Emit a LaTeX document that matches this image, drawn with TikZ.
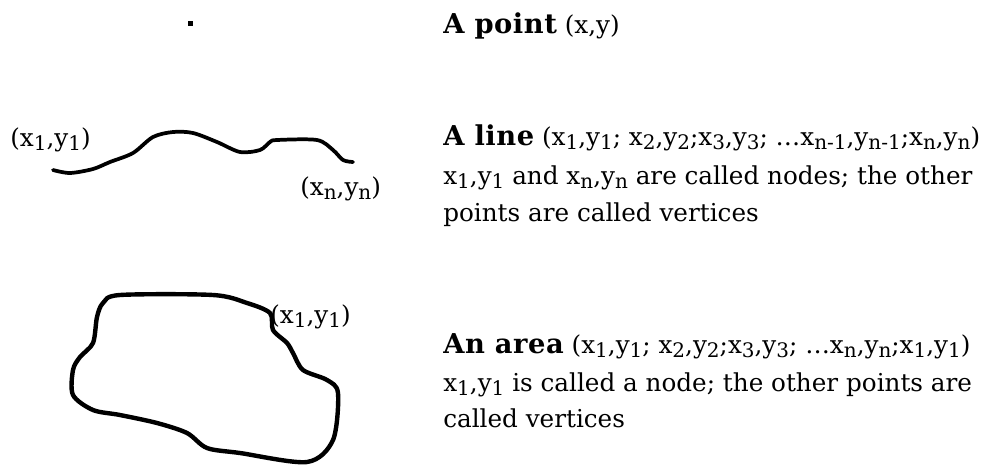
\documentclass[tikz,border=0pt]{standalone}
\usepackage{fontspec}
\setmainfont{DejaVu Serif}
\newcommand\sbs[1]{\raisebox{-3.5pt}{\fontsize{15}{15}\selectfont #1}}
\newcommand\hd[1]{{\fontsize{20.5}{22}\selectfont\bfseries\addfontfeature{LetterSpace=2}#1}}
\tikzset{
  txt/.style={anchor=base west, inner sep=0pt, font=\fontsize{18.5}{22}\selectfont},
  stroke/.style={line width=2.8pt, line cap=round, line join=round},
  thick stroke/.style={line width=3.3pt, line cap=round, line join=round}
}
\begin{document}
\begin{tikzpicture}[x=0.75pt, y=-0.75pt]
\useasboundingbox (0,0) rectangle (994,468);
% point
\node (pt) [fill=black, minimum size=3.75pt, inner sep=0pt] at (190,23) {};
\node (t1) [txt] at (443,33) {\hd{A point} (x,y)};
% line
\draw[stroke] plot[smooth, tension=0.5] coordinates {(53,170) (70,173) (93,169) (110,162) (133,153) (153,137) (173,132) (193,133) (217,142) (240,152) (260,150) (270,142) (277,140) (317,140) (333,150) (343,160) (353,162)};
\node (l1) [txt] at (10,146) {(x\sbs{1},y\sbs{1})};
\node (ln) [txt] at (300,195) {(x\sbs{n},y\sbs{n})};
\node (t2a) [txt] at (443,145) {\hd{A line} (x\sbs{1},y\sbs{1}; x\sbs{2},y\sbs{2};x\sbs{3},y\sbs{3}; …x\sbs{n-1},y\sbs{n-1};x\sbs{n},y\sbs{n})};
\node (t2b) [txt] at (443,184) {x\sbs{1},y\sbs{1} and x\sbs{n},y\sbs{n} are called nodes; the other};
\node (t2c) [txt] at (443,221) {points are called vertices};
% area
\draw[thick stroke] plot[smooth cycle, tension=0.5] coordinates {(270,313) (247,303) (213,295) (120,295) (103,303) (97,317) (93,343) (80,357) (73,370) (73,395) (93,410) (120,415) (157,423) (187,433) (207,448) (240,453) (307,462) (333,440) (338,393) (327,380) (303,370) (293,353) (287,343) (273,330)};
\node (a1) [txt] at (270,323) {(x\sbs{1},y\sbs{1})};
\node (t3a) [txt] at (443,353) {\hd{An area} (x\sbs{1},y\sbs{1}; x\sbs{2},y\sbs{2};x\sbs{3},y\sbs{3}; …x\sbs{n},y\sbs{n};x\sbs{1},y\sbs{1})};
\node (t3b) [txt] at (443,391) {x\sbs{1},y\sbs{1} is called a node; the other points are};
\node (t3c) [txt] at (443,427) {called vertices};
\end{tikzpicture}
\end{document}
